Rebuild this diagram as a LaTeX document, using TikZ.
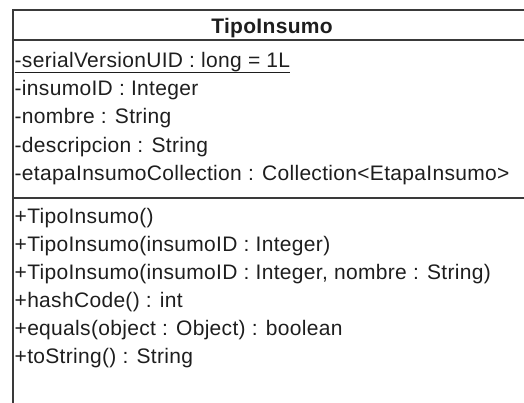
\documentclass[tikz,border=0pt]{standalone}
\usepackage{fontspec}
\setmainfont{Liberation Sans}[LetterSpace=1.5]
\usetikzlibrary{positioning}
\definecolor{umlline}{HTML}{3A3A3A}
\definecolor{umltext}{HTML}{1E1E1E}

\begin{document}
\begin{tikzpicture}[
  x=1pt,y=-1pt,
  font=\fontsize{21}{25}\selectfont,
  frame/.style={draw=umlline,line width=2.2pt},
  sep/.style={draw=umlline,line width=2pt},
  t/.style={anchor=base west,inner sep=0pt,text=umltext},
  hd/.style={anchor=base,inner sep=0pt,text=umltext,font=\fontsize{21}{25}\selectfont\bfseries},
  uline/.style={draw=umltext,line width=1.3pt},
]
  \useasboundingbox (0,0) rectangle (524,402);
  \clip (0,0) rectangle (524,402);

  % class box, cut by the page on the right and at the bottom
  \draw[frame] (13,10) rectangle (545,430);
  \draw[sep] (13,40) -- (545,40);
  \draw[sep] (13,198) -- (545,198);

  \node[hd] (name) at (272,33) {TipoInsumo};

  % attributes
  \node[t] (ser)  at (14.5,67.5)  {-serialVersionUID : long = 1L};
  \node[t] (id)   at (14.5,95.7)  {-insumoID : Integer};
  \node[t] (nom)  at (14.5,123.9) {-nombre : String};
  \node[t] (desc) at (14.5,152.1) {-descripcion : String};
  \node[t] (col)  at (14.5,180.3) {-etapaInsumoCollection : Collection<EtapaInsumo>};
  \draw[uline] ([yshift=-5pt]ser.base west) -- ([yshift=-5pt]ser.base east);

  % operations
  \node[t] (c0)  at (14.5,223.5) {+TipoInsumo()};
  \node[t] (c1)  at (14.5,251.5) {+TipoInsumo(insumoID : Integer)};
  \node[t] (c2)  at (14.5,279.5) {+TipoInsumo(insumoID : Integer, nombre : String)};
  \node[t] (hc)  at (14.5,307.5) {+hashCode() : int};
  \node[t] (eq)  at (14.5,335.5) {+equals(object : Object) : boolean};
  \node[t] (ts)  at (14.5,363.5) {+toString() : String};
\end{tikzpicture}
\end{document}
